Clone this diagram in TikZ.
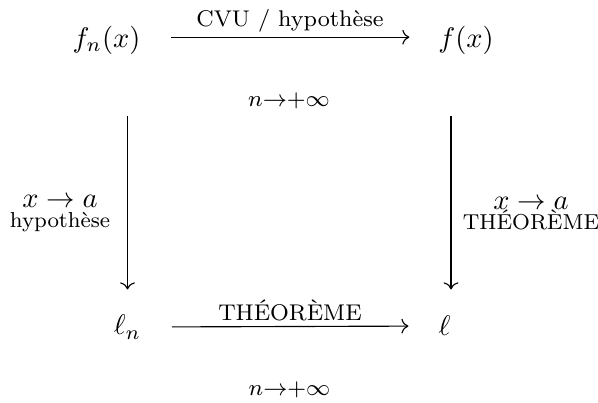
\documentclass[tikz,border=0pt]{standalone}
\usepackage{amsmath}
\usepackage{tikz}
\usetikzlibrary{arrows.meta,calc}

\begin{document}
\begin{tikzpicture}[x=0.352pt,y=-0.352pt,
  obj/.style={inner sep=0pt},
  lab/.style={font=\footnotesize,inner sep=0pt,align=center},
  cote/.style={lab,font=\fontsize{7.6}{9.5}\selectfont},
  fl/.style={-{To},line width=0.4pt}
]
\useasboundingbox (0,0) rectangle (598,402);
% les quatre sommets
\node[obj] (fn) at (106.5,40) {$f_n(x)$};
\node[obj] (f) at (466,40) {$f(x)$};
\node[obj] (ln) at (127.5,327) {$\ell_n$};
\node[obj] (l) at (444.5,326) {$\ell$};
% fleches
\draw[fl,shorten <=10.6pt,shorten >=10pt] ([yshift=1pt]fn.east) -- ([yshift=1pt]f.west);
\draw[fl,shorten <=10.6pt,shorten >=10.4pt] (ln.east) -- (l.west);
\draw[fl,shorten <=21.5pt,shorten >=8.8pt] (ln |- fn.south) -- (ln.north);
\draw[fl,shorten <=21.5pt,shorten >=9.2pt] ($(l |- f.south)+(6.5,0)$) -- ($(l.north)+(6.5,0)$);
% etiquettes
\node[lab,anchor=base] (cvu) at (290,26) {CVU / hypothèse};
\node[lab] (lim1) at (289,101) {$n{\to}{+}\infty$};
\node[cote] (gauche) at (60,213.5) {{\normalsize$x\to a$}\\[-2.5pt]hypothèse};
\node[cote] (droite) at (531,213.5) {{\normalsize$x\to a$}\\[-2.5pt]THÉORÈME};
\node[lab,anchor=base] (theo) at (290,320) {THÉORÈME};
\node[lab] (lim2) at (289.5,390) {$n{\to}{+}\infty$};
\end{tikzpicture}
\end{document}
